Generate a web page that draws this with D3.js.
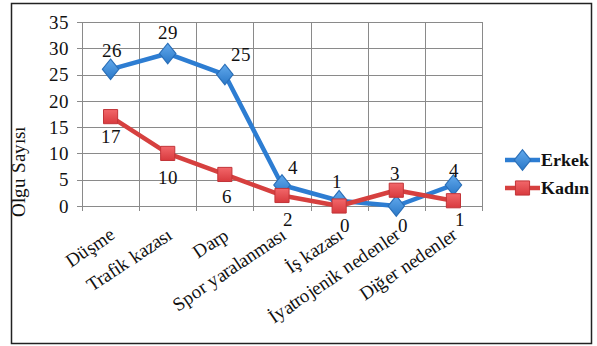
<!DOCTYPE html>
<html>
<head>
<meta charset="utf-8">
<script src="https://cdn.jsdelivr.net/npm/d3@7"></script>
<style>
  @font-face { font-family: "ChartSerif"; src: local("Liberation Serif"), local("LiberationSerif"); font-weight: normal; }
  @font-face { font-family: "ChartSerif"; src: local("Liberation Serif Bold"), local("LiberationSerif-Bold"); font-weight: bold; }
</style>
</head>
<body style="margin:0">
<svg id="chart" width="597" height="346"></svg>
<script>
// Causes of injury
const categories = ["Düşme", "Trafik kazası", "Darp", "Spor yaralanması", "İş kazası", "İyatrojenik nedenler", "Diğer nedenler"];
const erkek = [26, 29, 25, 4, 1, 0, 4];
const kadin = [17, 10, 6, 2, 0, 3, 1];
const yTicks = [0, 5, 10, 15, 20, 25, 30, 35];

// value label nudges (dx, dy) relative to each point
const erkekLabelOffsets = [[1, -19], [0, -21], [16, -20], [11, -18], [-2, -19], [7, 19], [1, -15]];
const kadinLabelOffsets = [[0, 20], [0, 24], [2, 22], [6, 24], [6, 19], [-1, -17], [7, 19]];

const svg = d3.select("#chart");
const margin = { left: 82, right: 482, top: 22, bottom: 206 };

const x = d3.scaleBand().domain(categories).range([margin.left, margin.right]).padding(0);
const y = d3.scaleLinear().domain([0, 35]).range([margin.bottom, margin.top]);
const cx = d => x(d) + x.bandwidth() / 2;

// layers: frame and grid below, series above, text on top
const gFrame = svg.append("g");
const gGrid = svg.append("g").attr("stroke", "#8a8a8a").attr("stroke-width", 1).attr("shape-rendering", "crispEdges");
const gSeries = svg.append("g");
const gText = svg.append("g").attr("fill", "#111");

const txt = (sel, size) => sel.style("font-family", "ChartSerif, 'Liberation Serif', 'Times New Roman', serif")
  .style("font-size", (size || 19) + "px");

// y tick labels
gText.append("g").selectAll("text").data(yTicks).join("text")
  .call(txt)
  .attr("x", 69).attr("y", d => y(d)).attr("dy", "0.35em")
  .attr("text-anchor", "end")
  .text(d => d);

// y axis title
gText.append("text").call(txt)
  .attr("transform", "translate(25,172) rotate(-90)")
  .attr("text-anchor", "middle")
  .text("Olgu Sayısı");

// category labels, slanted
gText.append("g").selectAll("text").data(categories).join("text")
  .call(txt)
  .attr("transform", d => `translate(${cx(d) + 5},${238}) rotate(-34)`)
  .attr("text-anchor", "end")
  .text(d => d);

// outer frame
gFrame.append("rect")
  .attr("x", 11.5).attr("y", 3.5)
  .attr("width", 580).attr("height", 340)
  .attr("fill", "none").attr("stroke", "#222").attr("stroke-width", 1.5);

// horizontal gridlines with small ticks on the left
gGrid.selectAll("line.h").data(yTicks).join("line")
  .attr("x1", margin.left - 5).attr("x2", margin.right)
  .attr("y1", d => Math.round(y(d)) + 0.5).attr("y2", d => Math.round(y(d)) + 0.5);
// vertical gridlines at category boundaries, extending below the axis as ticks
const bounds = categories.map(c => x(c)).concat([margin.right]);
gGrid.selectAll("line.v").data(bounds).join("line")
  .attr("x1", d => Math.round(d) + 0.5).attr("x2", d => Math.round(d) + 0.5)
  .attr("y1", margin.top).attr("y2", margin.bottom + 5);

// marker gradients
const defs = svg.append("defs");
const gBlue = defs.append("linearGradient").attr("id", "gBlue").attr("x1", 0).attr("y1", 0).attr("x2", 0).attr("y2", 1);
gBlue.append("stop").attr("offset", "0%").attr("stop-color", "#62a9ec");
gBlue.append("stop").attr("offset", "100%").attr("stop-color", "#2a78c8");
const gRed = defs.append("linearGradient").attr("id", "gRed").attr("x1", 0).attr("y1", 0).attr("x2", 0).attr("y2", 1);
gRed.append("stop").attr("offset", "0%").attr("stop-color", "#f2676a");
gRed.append("stop").attr("offset", "100%").attr("stop-color", "#d83a3e");

const line = d3.line().x((d, i) => cx(categories[i])).y(d => y(d));

const series = [
  { name: "Erkek", values: erkek, color: "#2d7dd2", fill: "url(#gBlue)", edge: "#2a6fb8",
    symbol: d3.symbolDiamond, size: 150, offsets: erkekLabelOffsets },
  { name: "Kadın", values: kadin, color: "#d6403f", fill: "url(#gRed)", edge: "#c23438",
    symbol: d3.symbolSquare, size: 200, offsets: kadinLabelOffsets }
];

series.forEach(s => {
  gSeries.append("path").datum(s.values)
    .attr("d", line).attr("fill", "none")
    .attr("stroke", s.color).attr("stroke-width", 4.5)
    .attr("stroke-linejoin", "round");
  const sym = d3.symbol().type(s.symbol).size(s.size);
  gSeries.append("g").selectAll("path").data(s.values).join("path")
    .attr("transform", (d, i) => s.symbol === d3.symbolDiamond
      ? `translate(${cx(categories[i])},${y(d)}) scale(1.25,0.9)`
      : `translate(${cx(categories[i])},${y(d)})`)
    .attr("d", sym)
    .attr("fill", s.fill).attr("stroke", s.edge).attr("stroke-width", 1);
});

series.forEach(s => {
  gText.append("g").selectAll("text").data(s.values).join("text")
    .call(txt)
    .attr("x", (d, i) => cx(categories[i]) + s.offsets[i][0])
    .attr("y", (d, i) => y(d) + s.offsets[i][1])
    .attr("dy", "0.35em").attr("text-anchor", "middle")
    .text(d => d);
});

// legend
series.forEach((s, i) => {
  const ly = 160 + i * 28;
  gSeries.append("line").attr("x1", 505).attr("x2", 540).attr("y1", ly).attr("y2", ly)
    .attr("stroke", s.color).attr("stroke-width", 4.5);
  gSeries.append("path")
    .attr("transform", s.symbol === d3.symbolDiamond
      ? `translate(522.5,${ly}) scale(1.25,0.9)` : `translate(522.5,${ly})`)
    .attr("d", d3.symbol().type(s.symbol).size(s.size))
    .attr("fill", s.fill).attr("stroke", s.edge).attr("stroke-width", 1);
  gText.append("text").call(txt, 18).attr("x", 541).attr("y", ly).attr("dy", "0.35em")
    .style("font-weight", "bold").text(s.name);
});
</script>
</body>
</html>
